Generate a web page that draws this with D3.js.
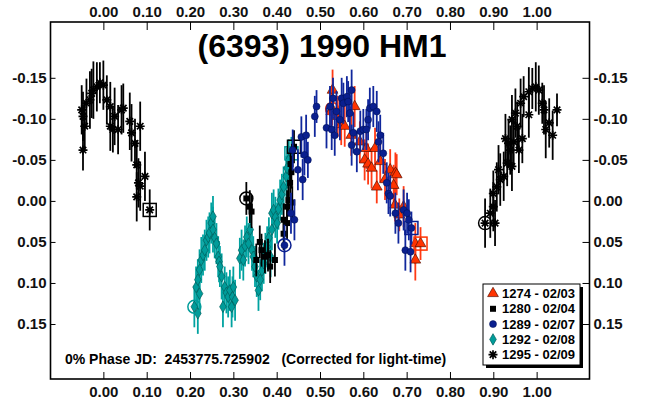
<!DOCTYPE html>
<html><head><meta charset="utf-8">
<script src="https://cdn.jsdelivr.net/npm/d3@7"></script>
<style>
html,body{margin:0;padding:0;background:#fff;}
svg{display:block;font-family:"Liberation Sans",Arial,sans-serif;}
</style></head><body>
<svg id="c" width="645" height="406"></svg>
<script>
// ---------- data ----------
const titleText = "(6393) 1990 HM1";
const footerText = "0% Phase JD:  2453775.725902   (Corrected for light-time)";
const xTicks = [0.00, 0.10, 0.20, 0.30, 0.40, 0.50, 0.60, 0.70, 0.80, 0.90, 1.00];
const yTicks = [-0.15, -0.10, -0.05, 0.00, 0.05, 0.10, 0.15];
const legendLabels = ["1274 - 02/03", "1280 - 02/04", "1289 - 02/07", "1292 - 02/08", "1295 - 02/09"];

// [phase, mag, error]
const s1274 = [
 [0.528,-0.112,0.02],[0.529,-0.135,0.025],[0.526,-0.109,0.025],[0.541,-0.103,0.025],[0.549,-0.093,0.025],
 [0.557,-0.091,0.025],[0.580,-0.115,0.025],[0.572,-0.080,0.025],[0.592,-0.072,0.025],[0.607,-0.064,0.025],
 [0.603,-0.050,0.025],[0.611,-0.045,0.025],[0.619,-0.040,0.025],[0.627,-0.064,0.025],[0.639,-0.048,0.025],
 [0.631,-0.017,0.02],[0.650,-0.026,0.025],[0.662,-0.038,0.025],[0.674,-0.034,0.025],[0.677,-0.032,0.025],
 [0.670,-0.019,0.025],[0.693,0.007,0.025],[0.673,0.005,0.02],[0.683,0.017,0.02],[0.720,0.052,0.025],
 [0.720,0.072,0.025],[0.732,0.052,0.02]
];
const s1280 = [
 [0.330,-0.003,0.02],[0.338,0.007,0.02],[0.342,0.013,0.02],[0.361,0.050,0.02],[0.365,0.060,0.02],
 [0.353,0.072,0.02],[0.373,0.068,0.02],[0.380,0.066,0.02],[0.396,0.072,0.02],[0.385,0.080,0.02],
 [0.416,0.040,0.02],[0.424,0.027,0.02],[0.424,0.007,0.02],[0.427,-0.001,0.02],[0.431,-0.022,0.02],
 [0.416,0.023,0.02],[0.436,0.002,0.02],[0.434,-0.035,0.02],[0.432,-0.045,0.02],[0.440,-0.066,0.02]
];
const s1289 = [
 [0.418,0.054,0.025],[0.441,0.023,0.025],[0.433,0.015,0.025],[0.449,-0.038,0.025],[0.460,-0.026,0.025],
 [0.464,-0.056,0.025],[0.472,-0.050,0.022],[0.457,-0.078,0.025],[0.468,-0.080,0.025],[0.437,-0.062,0.025],
 [0.488,-0.103,0.025],[0.492,-0.115,0.02],[0.515,-0.089,0.025],[0.523,-0.115,0.025],[0.527,-0.087,0.025],
 [0.534,-0.080,0.025],[0.530,-0.125,0.025],[0.538,-0.109,0.025],[0.546,-0.099,0.025],[0.550,-0.125,0.025],
 [0.554,-0.119,0.025],[0.562,-0.127,0.025],[0.565,-0.121,0.025],[0.573,-0.135,0.025],[0.569,-0.107,0.025],
 [0.577,-0.083,0.025],[0.573,-0.068,0.025],[0.585,-0.060,0.025],[0.593,-0.085,0.025],[0.600,-0.087,0.025],
 [0.611,-0.099,0.025],[0.615,-0.113,0.025],[0.623,-0.115,0.025],[0.631,-0.109,0.025],[0.607,-0.087,0.025],
 [0.639,-0.080,0.025],[0.635,-0.072,0.025],[0.646,-0.058,0.025],[0.654,-0.022,0.025],[0.658,-0.009,0.025],
 [0.662,-0.006,0.025],[0.674,0.015,0.025],[0.681,0.027,0.025],[0.693,0.011,0.025],[0.701,0.015,0.025],
 [0.697,0.060,0.025],[0.709,0.062,0.025],[0.705,0.023,0.025],[0.711,0.033,0.02]
];
const s1292 = [
 [0.210,0.129,0.025],[0.218,0.137,0.025],[0.222,0.113,0.025],[0.214,0.105,0.025],[0.218,0.096,0.025],
 [0.222,0.084,0.025],[0.226,0.072,0.028],[0.230,0.066,0.025],[0.234,0.060,0.025],[0.238,0.048,0.025],
 [0.242,0.044,0.025],[0.245,0.039,0.025],[0.249,0.027,0.025],[0.253,0.019,0.025],[0.253,0.035,0.028],
 [0.257,0.045,0.025],[0.261,0.052,0.025],[0.265,0.068,0.025],[0.267,0.074,0.025],[0.269,0.080,0.025],
 [0.273,0.092,0.028],[0.280,0.105,0.025],[0.276,0.129,0.025],[0.284,0.112,0.025],[0.288,0.117,0.025],
 [0.292,0.109,0.025],[0.296,0.129,0.025],[0.298,0.117,0.025],[0.304,0.121,0.025],[0.300,0.105,0.025],
 [0.315,0.070,0.025],[0.319,0.060,0.025],[0.323,0.072,0.025],[0.327,0.055,0.025],[0.331,0.044,0.025],
 [0.335,0.052,0.025],[0.339,0.035,0.025],[0.343,0.060,0.025],[0.346,0.068,0.025],[0.350,0.080,0.025],
 [0.354,0.092,0.025],[0.362,0.096,0.025],[0.358,0.109,0.025],[0.366,0.085,0.025],[0.370,0.076,0.025],
 [0.374,0.064,0.025],[0.378,0.056,0.025],[0.382,0.045,0.025],[0.386,0.068,0.025],[0.389,0.035,0.025],
 [0.389,0.015,0.025],[0.393,0.011,0.025],[0.397,0.020,0.025],[0.401,0.027,0.025],[0.404,0.010,0.025],
 [0.408,-0.001,0.025],[0.412,-0.008,0.025],[0.416,-0.017,0.025],[0.422,-0.030,0.025],[0.424,-0.040,0.025],
 [0.428,-0.050,0.025],[0.434,-0.058,0.02]
];
const s1295 = [
 [0.881,0.027,0.03],[0.893,0.015,0.03],[0.904,0.027,0.028],[0.900,0.007,0.03],[0.900,-0.009,0.028],
 [0.908,-0.017,0.03],[0.916,-0.026,0.032],[0.924,-0.030,0.03],[0.912,-0.038,0.03],[0.932,-0.046,0.028],
 [0.943,-0.042,0.03],[0.939,-0.062,0.03],[0.928,-0.076,0.03],[0.935,-0.070,0.03],[0.947,-0.072,0.03],
 [0.959,-0.062,0.028],[0.967,-0.076,0.03],[0.955,-0.091,0.03],[0.943,-0.099,0.03],[0.951,-0.107,0.03],
 [0.963,-0.119,0.03],[0.970,-0.127,0.025],[0.982,-0.133,0.03],[0.990,-0.137,0.025],[0.998,-0.139,0.03],
 [1.005,-0.135,0.03],[0.982,-0.105,0.028],[1.013,-0.119,0.025],[1.017,-0.111,0.03],[1.021,-0.087,0.035],
 [1.029,-0.095,0.03],[1.037,-0.080,0.03],[1.047,-0.111,0.02],
 [-0.050,-0.111,0.03],[-0.047,-0.103,0.03],[-0.043,-0.091,0.03],[-0.047,-0.062,0.025],[-0.039,-0.119,0.03],
 [-0.031,-0.123,0.035],[-0.027,-0.131,0.03],[-0.023,-0.135,0.035],[-0.015,-0.139,0.03],[-0.008,-0.144,0.025],
 [0.000,-0.141,0.03],[0.008,-0.123,0.03],[0.016,-0.115,0.03],[0.016,-0.091,0.03],[0.022,-0.087,0.028],
 [0.026,-0.103,0.035],[0.034,-0.087,0.03],[0.042,-0.111,0.03],[0.046,-0.113,0.03],[0.061,-0.097,0.035],
 [0.065,-0.083,0.035],[0.073,-0.070,0.03],[0.085,-0.091,0.03],[0.077,-0.044,0.03],[0.081,-0.022,0.03],
 [0.077,-0.005,0.03],[0.096,-0.030,0.03],[0.085,-0.018,0.03],[0.107,0.011,0.025]
];

// ---------- drawing ----------
const W = 645, H = 406;
const L = 50.5, R = 589.5, T = 22, B = 379;
const x = d3.scaleLinear().domain([-0.122, 1.122]).range([L, R]);
const y = d3.scaleLinear().domain([-0.218, 0.217]).range([T, B]);
const fmt = d => d.toFixed(2);
const svg = d3.select("#c");
svg.append("rect").attr("width", W).attr("height", H).attr("fill", "#fff");

function styleAxis(g) {
  g.select(".domain").remove();
  g.selectAll(".tick line").attr("stroke", "#000").attr("stroke-width", 1);
  g.selectAll("text").attr("font-size", 15).attr("font-weight", "bold")
    .attr("font-family", "'Liberation Sans', Arial, sans-serif").attr("fill", "#111");
}
svg.append("g").attr("transform", `translate(0,${T})`)
  .call(d3.axisTop(x).tickValues(xTicks).tickFormat(fmt).tickSizeInner(-8).tickSizeOuter(0).tickPadding(5)).call(styleAxis);
svg.append("g").attr("transform", `translate(0,${B})`)
  .call(d3.axisBottom(x).tickValues(xTicks).tickFormat(fmt).tickSizeInner(-7).tickSizeOuter(0).tickPadding(7)).call(styleAxis);
svg.append("g").attr("transform", `translate(${L},0)`)
  .call(d3.axisLeft(y).tickValues(yTicks).tickFormat(fmt).tickSizeInner(-5).tickSizeOuter(0).tickPadding(4)).call(styleAxis);
svg.append("g").attr("transform", `translate(${R},0)`)
  .call(d3.axisRight(y).tickValues(yTicks).tickFormat(fmt).tickSizeInner(-7).tickSizeOuter(0).tickPadding(4)).call(styleAxis);

svg.append("rect").attr("x", L).attr("y", T).attr("width", R - L).attr("height", B - T)
  .attr("fill", "none").attr("stroke", "#000").attr("stroke-width", 1.6);

// marker painters
function asteriskPath(r) {
  const a = r * 0.72;
  return `M${-r},0L${r},0M0,${-r}L0,${r}M${-a},${-a}L${a},${a}M${-a},${a}L${a},${-a}`;
}
const series = [
  { key: "1295", data: s1295, color: "#000", bar: "#000", type: "ast" },
  { key: "1292", data: s1292, color: "#009c9a", bar: "#00a2a0", type: "dia" },
  { key: "1280", data: s1280, color: "#000", bar: "#000", type: "sq" },
  { key: "1274", data: s1274, color: "#ff3300", bar: "#ff3a14", type: "tri" },
  { key: "1289", data: s1289, color: "#0a1f8f", bar: "#10279c", type: "cir" }
];
function drawMarker(sel, type, color) {
  if (type === "tri") sel.append("path").attr("d", d3.symbol(d3.symbolTriangle, 50)()).attr("fill", color).attr("stroke", "#5a1000").attr("stroke-width", 0.7);
  else if (type === "sq") sel.append("path").attr("d", d3.symbol(d3.symbolSquare, 36)()).attr("fill", "#000");
  else if (type === "cir") sel.append("circle").attr("r", 3.5).attr("fill", color).attr("stroke", "#001050").attr("stroke-width", 0.5);
  else if (type === "dia") sel.append("path").attr("d", d3.symbol(d3.symbolDiamond, 38)()).attr("fill", color).attr("stroke", "#005e5c").attr("stroke-width", 0.7);
  else sel.append("path").attr("d", asteriskPath(4.5)).attr("stroke", "#000").attr("stroke-width", 1.7).attr("fill", "none");
}
series.forEach(s => {
  const g = svg.append("g");
  g.selectAll("line").data(s.data).join("line")
    .attr("x1", d => x(d[0])).attr("x2", d => x(d[0]))
    .attr("y1", d => y(d[1] - d[2])).attr("y2", d => y(d[1] + d[2]))
    .attr("stroke", s.bar).attr("stroke-width", 1.8);
  g.selectAll("g.m").data(s.data).join("g").attr("class", "m")
    .attr("transform", d => `translate(${x(d[0])},${y(d[1])})`)
    .each(function () { drawMarker(d3.select(this), s.type, s.color); });
  const first = s.data[0], last = s.data[s.data.length - 1];
  g.append("circle").attr("cx", x(first[0])).attr("cy", y(first[1])).attr("r", 6.5)
    .attr("fill", "none").attr("stroke", s.color).attr("stroke-width", 1.5);
  g.append("rect").attr("x", x(last[0]) - 6.5).attr("y", y(last[1]) - 6.5).attr("width", 13).attr("height", 13)
    .attr("fill", "none").attr("stroke", s.color).attr("stroke-width", 1.5);
});

// title
svg.append("text").attr("x", 322).attr("y", 57).attr("text-anchor", "middle")
  .attr("font-size", 32).attr("font-weight", "bold").attr("fill", "#000").text(titleText);
// footer
svg.append("text").attr("x", 65).attr("y", 364).attr("font-size", 14).attr("font-weight", "bold")
  .attr("fill", "#000").style("white-space", "pre").text(footerText);

// legend
const lg = svg.append("g");
const lx = 483, ly = 284, lw = 97, lh = 81;
lg.append("rect").attr("x", lx + 3).attr("y", ly + 3).attr("width", lw).attr("height", lh).attr("fill", "#000");
lg.append("rect").attr("x", lx).attr("y", ly).attr("width", lw).attr("height", lh).attr("fill", "#fff").attr("stroke", "#000").attr("stroke-width", 1);
const legendSeries = ["1274", "1280", "1289", "1292", "1295"].map(k => series.find(s => s.key === k));
legendLabels.forEach((lab, i) => {
  const cy = ly + 9.5 + i * 15.3;
  const m = lg.append("g").attr("transform", `translate(${lx + 10},${cy})`);
  drawMarker(m, legendSeries[i].type, legendSeries[i].color);
  lg.append("text").attr("x", lx + 19).attr("y", cy).attr("dy", "0.36em")
    .attr("font-size", 13).attr("font-weight", "bold").attr("fill", "#000").text(lab);
});
</script>
</body></html>
